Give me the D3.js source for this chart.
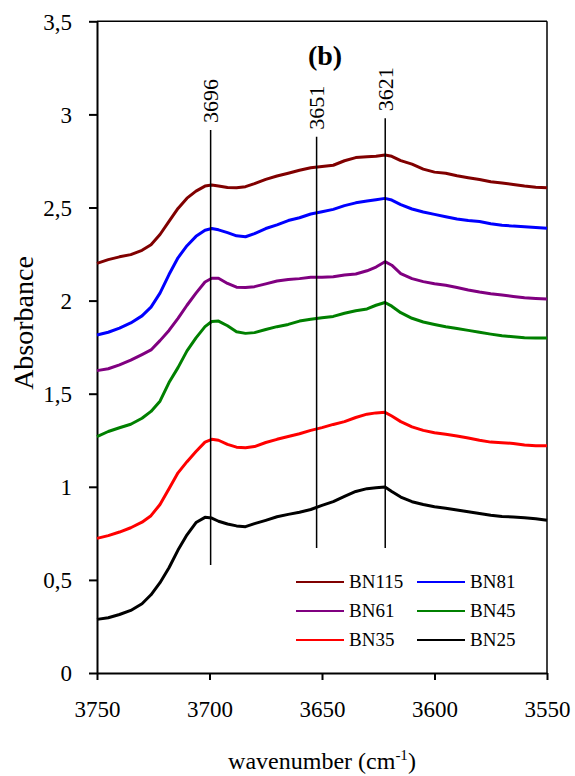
<!DOCTYPE html>
<html>
<head>
<meta charset="utf-8">
<script src="https://cdn.jsdelivr.net/npm/d3@7"></script>
<style>
  body { margin: 0; background: #fff; }
  svg { display: block; }
  svg text { font-family: "Liberation Serif", "Times New Roman", serif; fill: #000; }
</style>
</head>
<body>
<svg id="chart" width="575" height="776"></svg>
<script>
const wavenumbers = [3750, 3745, 3740, 3735, 3730, 3726, 3722, 3718, 3714, 3710, 3706, 3702, 3699, 3696, 3692, 3688, 3684, 3680, 3675, 3670, 3665, 3660, 3655, 3650, 3645, 3640, 3635, 3630, 3626, 3622, 3619, 3615, 3610, 3605, 3600, 3595, 3590, 3585, 3580, 3575, 3570, 3565, 3560, 3555, 3550];

const bn115 = [2.20, 2.22, 2.235, 2.247, 2.27, 2.30, 2.355, 2.425, 2.495, 2.55, 2.588, 2.615, 2.621, 2.616, 2.607, 2.606, 2.612, 2.628, 2.651, 2.669, 2.684, 2.70, 2.713, 2.72, 2.727, 2.751, 2.768, 2.772, 2.775, 2.782, 2.775, 2.752, 2.733, 2.706, 2.69, 2.684, 2.671, 2.66, 2.65, 2.638, 2.632, 2.624, 2.615, 2.609, 2.606];
const bn81 = [1.815, 1.83, 1.852, 1.88, 1.918, 1.965, 2.04, 2.14, 2.23, 2.295, 2.345, 2.378, 2.387, 2.38, 2.365, 2.348, 2.343, 2.36, 2.387, 2.407, 2.43, 2.445, 2.465, 2.477, 2.49, 2.51, 2.525, 2.535, 2.542, 2.549, 2.54, 2.515, 2.492, 2.476, 2.463, 2.45, 2.438, 2.43, 2.425, 2.413, 2.405, 2.40, 2.397, 2.392, 2.388];
const bn61 = [1.624, 1.634, 1.655, 1.68, 1.71, 1.735, 1.785, 1.84, 1.905, 1.975, 2.04, 2.10, 2.12, 2.12, 2.092, 2.072, 2.07, 2.075, 2.09, 2.105, 2.113, 2.118, 2.125, 2.125, 2.128, 2.138, 2.143, 2.16, 2.18, 2.209, 2.19, 2.145, 2.118, 2.102, 2.09, 2.082, 2.07, 2.057, 2.046, 2.037, 2.03, 2.022, 2.015, 2.011, 2.008];
const bn45 = [1.269, 1.297, 1.317, 1.336, 1.368, 1.405, 1.46, 1.56, 1.64, 1.73, 1.80, 1.86, 1.888, 1.89, 1.865, 1.833, 1.824, 1.828, 1.845, 1.86, 1.872, 1.89, 1.90, 1.908, 1.915, 1.932, 1.945, 1.955, 1.975, 1.99, 1.97, 1.935, 1.905, 1.885, 1.872, 1.86, 1.85, 1.84, 1.83, 1.82, 1.811, 1.806, 1.801, 1.799, 1.799];
const bn35 = [0.723, 0.738, 0.757, 0.78, 0.81, 0.845, 0.905, 0.99, 1.075, 1.135, 1.19, 1.24, 1.255, 1.25, 1.228, 1.213, 1.21, 1.216, 1.238, 1.255, 1.27, 1.285, 1.303, 1.318, 1.335, 1.35, 1.372, 1.39, 1.397, 1.40, 1.38, 1.35, 1.322, 1.303, 1.29, 1.282, 1.273, 1.262, 1.25, 1.24, 1.237, 1.233, 1.225, 1.22, 1.22];
const bn25 = [0.288, 0.297, 0.314, 0.336, 0.372, 0.42, 0.485, 0.565, 0.66, 0.742, 0.808, 0.836, 0.832, 0.815, 0.80, 0.79, 0.786, 0.802, 0.82, 0.839, 0.852, 0.863, 0.878, 0.90, 0.92, 0.948, 0.975, 0.99, 0.995, 0.999, 0.975, 0.945, 0.92, 0.905, 0.893, 0.885, 0.875, 0.866, 0.857, 0.847, 0.84, 0.838, 0.834, 0.828, 0.82];

const seriesNames = ["BN115", "BN81", "BN61", "BN45", "BN35", "BN25"];
const seriesValues = [bn115, bn81, bn61, bn45, bn35, bn25];
const seriesColors = ["#800000", "#0000ff", "#800080", "#008000", "#ff0000", "#000000"];

// band markers: where the line is drawn, its label, and its vertical extent
const markerPos = [3699.5, 3652.4, 3621.9];
const markerLabels = ["3696", "3651", "3621"];
const markerTop = [2.916, 2.88, 2.979];
const markerBottom = [0.58, 0.671, 0.671];

const xTicks = [3750, 3700, 3650, 3600, 3550];
const yTicks = [0, 0.5, 1, 1.5, 2, 2.5, 3, 3.5];
const yTickLabels = ["0", "0,5", "1", "1,5", "2", "2,5", "3", "3,5"];

const serif = "'Liberation Serif', 'Times New Roman', serif";
const svg = d3.select("#chart");
const plotLeft = 97, plotRight = 547, plotTop = 21.3, plotBottom = 673;

const x = d3.scaleLinear().domain([3750, 3550]).range([plotLeft, plotRight]);
const y = d3.scaleLinear().domain([0, 3.5]).range([plotBottom, plotTop]);

// frame on top and right
svg.append("line")
    .attr("x1", x(3750)).attr("x2", x(3550))
    .attr("y1", y(3.5)).attr("y2", y(3.5))
    .attr("stroke", "#000").attr("stroke-width", 1.5);
svg.append("line")
    .attr("x1", x(3550)).attr("x2", x(3550))
    .attr("y1", y(0)).attr("y2", y(3.5))
    .attr("stroke", "#000").attr("stroke-width", 1.5);

// axes
const yAxis = svg.append("g")
    .attr("transform", `translate(${plotLeft},0)`)
    .call(d3.axisLeft(y).tickValues(yTicks).tickFormat((d, i) => yTickLabels[i]).tickSize(8).tickSizeOuter(0).tickPadding(17));
const xAxis = svg.append("g")
    .attr("transform", `translate(0,${plotBottom})`)
    .call(d3.axisBottom(x).tickValues(xTicks).tickFormat(d3.format("d")).tickSize(7).tickSizeOuter(0).tickPadding(21));

[xAxis, yAxis].forEach(g => {
    g.attr("font-family", serif).attr("font-size", 23);
    g.selectAll("path, line").attr("stroke", "#000").attr("stroke-width", 2);
    g.selectAll("text")
        .attr("fill", "#000")
        .style("font-family", serif)
        .style("font-size", "23px");
});
yAxis.selectAll("text").attr("dy", "0.34em");

// spectra
const line = d3.line()
    .x(d => x(d[0]))
    .y(d => y(d[1]));

seriesValues.forEach((vals, i) => {
    svg.append("path")
        .datum(wavenumbers.map((w, j) => [w, vals[j]]))
        .attr("fill", "none")
        .attr("stroke", seriesColors[i])
        .attr("stroke-width", 3)
        .attr("stroke-linejoin", "round")
        .attr("d", line);
});

// marker lines + rotated labels
markerPos.forEach((w, i) => {
    svg.append("line")
        .attr("x1", x(w)).attr("x2", x(w))
        .attr("y1", y(markerTop[i])).attr("y2", y(markerBottom[i]))
        .attr("stroke", "#000").attr("stroke-width", 1.5);
    svg.append("text")
        .attr("transform", `translate(${x(w)},${y(markerTop[i]) - 7}) rotate(-90)`)
        .attr("dy", "0.34em")
        .style("font-family", serif)
        .style("font-size", "22px")
        .text(markerLabels[i]);
});

// panel label
svg.append("text")
    .attr("x", 325).attr("y", 65)
    .attr("text-anchor", "middle")
    .style("font-family", serif)
    .style("font-size", "28px").style("font-weight", "bold")
    .text("(b)");

// legend, two columns
const legend = svg.append("g");
seriesNames.forEach((name, i) => {
    const col = i % 2, row = Math.floor(i / 2);
    const lx = 296 + col * 121, ly = 582 + row * 29;
    legend.append("line")
        .attr("x1", lx).attr("x2", lx + 48)
        .attr("y1", ly).attr("y2", ly)
        .attr("stroke", seriesColors[i]).attr("stroke-width", 2);
    legend.append("text")
        .attr("x", lx + 53).attr("y", ly)
        .attr("dy", "0.33em")
        .style("font-family", serif)
        .style("font-size", "19px")
        .text(name);
});

// axis titles
svg.append("text")
    .attr("transform", "translate(33,323) rotate(-90)")
    .attr("text-anchor", "middle")
    .style("font-family", serif)
    .style("font-size", "28px")
    .text("Absorbance");

const xTitle = svg.append("text")
    .attr("x", 322).attr("y", 769)
    .attr("text-anchor", "middle")
    .style("font-family", serif)
    .style("font-size", "24px");
xTitle.append("tspan").text("wavenumber (cm");
xTitle.append("tspan").attr("dy", "-9").style("font-size", "15px").text("-1");
xTitle.append("tspan").attr("dy", "9").text(")");
</script>
</body>
</html>
